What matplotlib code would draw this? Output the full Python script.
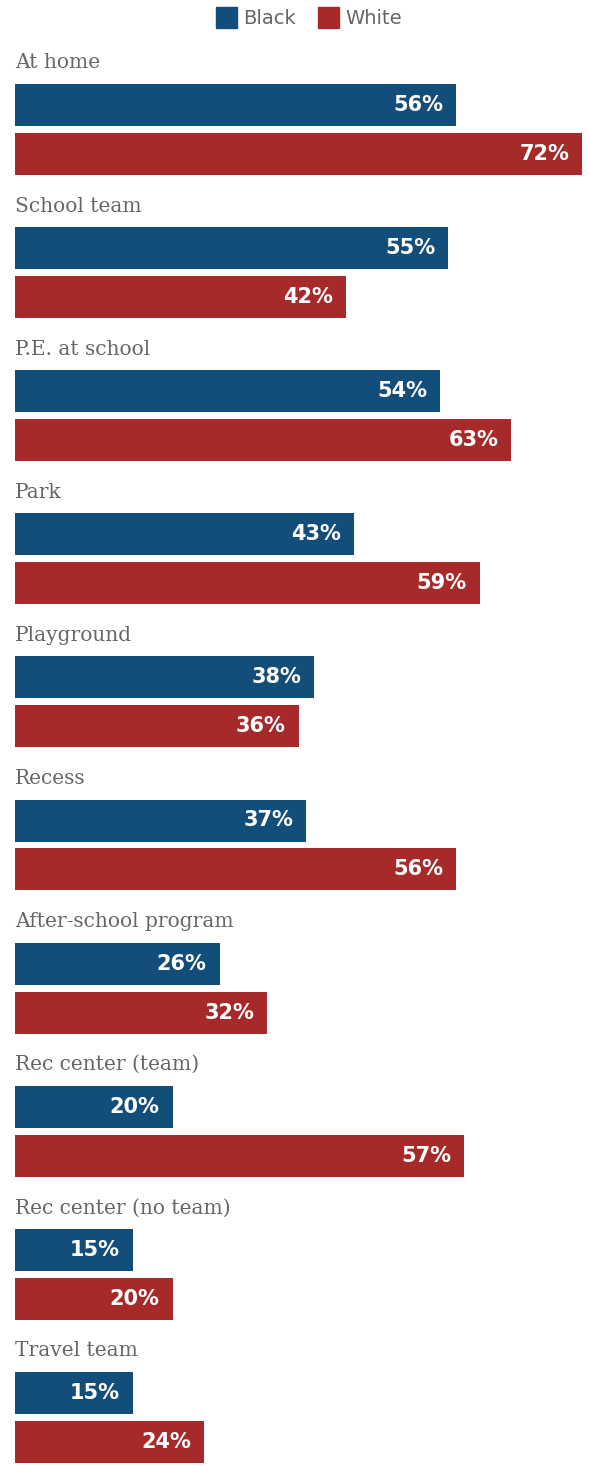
import numpy as np
import matplotlib.pyplot as plt
from matplotlib.patches import Rectangle

categories = [
    "At home", "School team", "P.E. at school", "Park", "Playground",
    "Recess", "After-school program", "Rec center (team)",
    "Rec center (no team)", "Travel team",
]
black = [56, 55, 54, 43, 38, 37, 26, 20, 15, 15]
white = [72, 42, 63, 59, 36, 56, 32, 57, 20, 24]

BLUE = "#134d7a"
RED = "#a52a29"
GRAY = "#666666"

W, H = 589, 1466
px_per_pct = 7.875
left_px = 15
step = 143.1          # px per category group
bar_h = 42 / step
red_off = 49 / step
label_off = -42 / step
first_center = 105    # px from top, first blue bar center

fig = plt.figure(figsize=(W / 100, H / 100), dpi=100)
ax = fig.add_axes([0, 0, 1, 1])
ax.set_xlim(-left_px / px_per_pct, (W - left_px) / px_per_pct)
ax.set_ylim((H - first_center) / step, -first_center / step)
ax.axis("off")

y = np.arange(len(categories))
ax.barh(y, black, height=bar_h, color=BLUE)
ax.barh(y + red_off, white, height=bar_h, color=RED)

pad = 13 / px_per_pct
for i, cat in enumerate(categories):
    ax.text(0, i + label_off, cat, ha="left", va="center", fontsize=14.5,
            family="DejaVu Serif", color=GRAY)
    ax.text(black[i] - pad, i, f"{black[i]}%", ha="right", va="center",
            fontsize=15, fontweight="bold", color="white")
    ax.text(white[i] - pad, i + red_off, f"{white[i]}%", ha="right",
            va="center", fontsize=15, fontweight="bold", color="white")

# legend drawn at the top
for x0, col, name in [(216, BLUE, "Black"), (318, RED, "White")]:
    fig.patches.append(Rectangle((x0 / W, 1 - 28 / H), 21 / W, 21 / H,
                                 transform=fig.transFigure, color=col))
    fig.text((x0 + 27) / W, 1 - 18 / H, name, ha="left", va="center",
             fontsize=14, color=GRAY)

fig.savefig("out.png", dpi=100)
